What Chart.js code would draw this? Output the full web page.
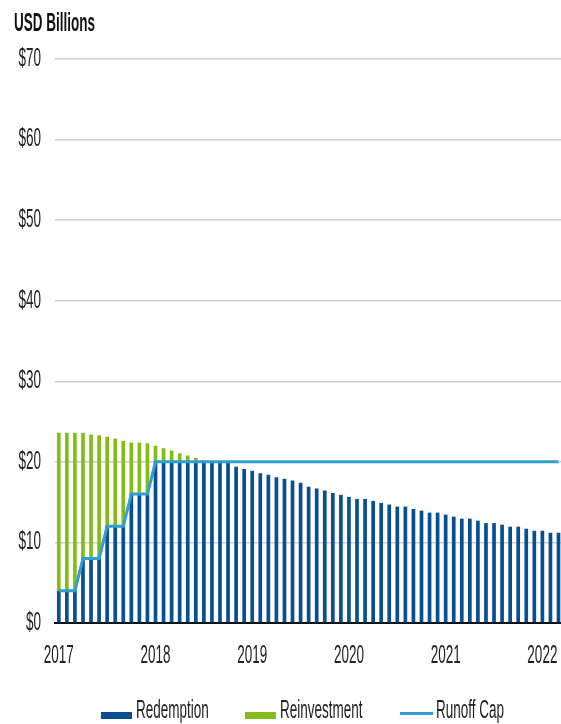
<!DOCTYPE html>
<html>
<head>
<meta charset="utf-8">
<script src="https://cdn.jsdelivr.net/npm/chart.js@4/dist/chart.umd.min.js"></script>
<style>
  html, body { margin: 0; padding: 0; background: #fff; }
  body { width: 561px; height: 724px; position: relative; overflow: hidden;
         font-family: "Liberation Sans", Arial, sans-serif; color: #222; }
  #wrap { position: absolute; left: 0; top: 0; width: 561px; height: 724px; }
  .tall { display: inline-block; line-height: 16px; transform: scaleY(1.85); transform-origin: 0 12.7px; white-space: nowrap; }
  .title { position: absolute; left: 14px; top: 20px; font-size: 13.5px; font-weight: bold; color: #111; }
  .legend { position: absolute; left: 0; top: 0; width: 561px; height: 724px; pointer-events: none; }
  .legend .txt { position: absolute; top: 706.5px; font-size: 13.5px; color: #222; }
  .legend .box { position: absolute; top: 712px; width: 31px; height: 6.5px; }
  .legend .line { position: absolute; top: 712px; width: 33px; height: 3px; }
</style>
</head>
<body>
<div id="wrap"><canvas id="chart" width="561" height="724"></canvas></div>
<div class="title tall">USD Billions</div>
<div class="legend" id="legend"></div>
<script>
// Months Jan 2017 .. Mar 2022
const years = [2017, 2018, 2019, 2020, 2021, 2022]
const monthLabels = []
years.forEach((y) => {
  for (let m = 1; m <= 12; m++) monthLabels.push(y + "-" + String(m).padStart(2, "0"))
})
monthLabels.length = 63

// USD billions per month
const redemption = [
  4, 4, 4, 8, 8, 8, 12, 12, 12, 16, 16, 16,
  20, 20, 20, 20, 20, 20, 20, 20, 20, 20,
  19.4, 19.1, 18.9, 18.6, 18.4, 18.1, 17.9, 17.7, 17.4, 16.9,
  16.7, 16.45, 16.15, 15.9, 15.65, 15.4, 15.4, 15.15, 14.9, 14.7,
  14.45, 14.45, 14.15, 13.95, 13.7, 13.7, 13.45, 13.2, 12.95, 12.95,
  12.7, 12.4, 12.4, 12.2, 11.95, 11.95, 11.7, 11.45, 11.45, 11.2, 11.2,
]
const reinvestment = [
  19.6, 19.6, 19.6, 15.6, 15.4, 15.3, 11.1, 10.9, 10.6, 6.4, 6.4, 6.3,
  2.0, 1.7, 1.4, 1.05, 0.8, 0.5, 0.2, 0, 0, 0,
  0, 0, 0, 0, 0, 0, 0, 0, 0, 0,
  0, 0, 0, 0, 0, 0, 0, 0, 0, 0,
  0, 0, 0, 0, 0, 0, 0, 0, 0, 0,
  0, 0, 0, 0, 0, 0, 0, 0, 0, 0, 0,
]
const runoffCap = [
  4, 4, 4, 8, 8, 8, 12, 12, 12, 16, 16, 16,
  20, 20, 20, 20, 20, 20, 20, 20, 20, 20,
  20, 20, 20, 20, 20, 20, 20, 20, 20, 20,
  20, 20, 20, 20, 20, 20, 20, 20, 20, 20,
  20, 20, 20, 20, 20, 20, 20, 20, 20, 20,
  20, 20, 20, 20, 20, 20, 20, 20, 20, 20, 20,
]
const yTicks = [0, 10, 20, 30, 40, 50, 60, 70]

const colors = {
  redemption: "#0b4f93",
  reinvestment: "#86bc1a",
  cap: "#2f9fd0",
}

const FONT = "'Liberation Sans', Arial, sans-serif"
const TEXT_STRETCH = 1.85

// month index -> point for the linear x axis
const toPoints = (arr) => arr.map((v, i) => ({ x: i, y: v }))
const yearTickValues = years.map((y) => monthLabels.indexOf(y + "-01"))

// the source art has tall, narrow lettering: stretch tick labels vertically
const tallLabels = {
  id: "tallLabels",
  beforeDraw(chart) {
    Object.values(chart.scales).forEach((scale) => {
      if (scale._tall) return
      const drawLabels = scale.drawLabels.bind(scale)
      scale.drawLabels = (area) => {
        const ctx = scale.ctx
        const fill = ctx.fillText
        ctx.fillText = function (text, x, y) {
          this.save()
          this.translate(x, y)
          this.scale(1, TEXT_STRETCH)
          fill.call(this, text, 0, 0)
          this.restore()
        }
        drawLabels(area)
        ctx.fillText = fill
      }
      scale._tall = true
    })
  },
}

new Chart(document.getElementById("chart"), {
  type: "bar",
  data: {
    datasets: [
      {
        type: "line",
        label: "Runoff Cap",
        data: toPoints(runoffCap),
        borderColor: colors.cap,
        borderWidth: 3,
        pointRadius: 0,
        tension: 0,
        stack: "cap",
        order: 0,
      },
      {
        label: "Redemption",
        data: toPoints(redemption),
        backgroundColor: colors.redemption,
        categoryPercentage: 1,
        barPercentage: 0.46,
        stack: "flows",
        order: 1,
      },
      {
        label: "Reinvestment",
        data: toPoints(reinvestment),
        backgroundColor: colors.reinvestment,
        categoryPercentage: 1,
        barPercentage: 0.46,
        stack: "flows",
        order: 1,
      },
    ],
  },
  plugins: [tallLabels],
  options: {
    responsive: false,
    animation: false,
    layout: { padding: { top: 59, left: 0, right: 0, bottom: 0 } },
    plugins: {
      legend: { display: false },
      tooltip: { enabled: false },
    },
    scales: {
      x: {
        type: "linear",
        stacked: true,
        offset: false,
        min: -0.47,
        max: 62.31,
        grid: { display: false, drawTicks: false, offset: false },
        border: { display: true, color: "#111", width: 2 },
        afterBuildTicks: (scale) => {
          scale.ticks = yearTickValues.map((v) => ({ value: v }))
        },
        afterFit: (scale) => {
          scale.height = 101
          scale.paddingLeft = 0
          scale.paddingRight = 0
        },
        ticks: {
          autoSkip: false,
          maxRotation: 0,
          padding: 25,
          color: "#222",
          font: { family: FONT, size: 13.5 },
          callback: (v) => monthLabels[v].slice(0, 4),
        },
      },
      y: {
        stacked: true,
        min: 0,
        max: 70,
        afterBuildTicks: (scale) => {
          scale.ticks = yTicks.map((v) => ({ value: v }))
        },
        afterFit: (scale) => {
          scale.width = 55
        },
        grid: {
          color: (ctx) => (ctx.tick && ctx.tick.value === 0 ? "rgba(0,0,0,0)" : "#cfcfcf"),
          lineWidth: 1.5,
          drawTicks: false,
        },
        border: { display: false },
        ticks: {
          padding: 14,
          color: "#222",
          font: { family: FONT, size: 13.5 },
          callback: (v) => "$" + v,
        },
      },
    },
  },
})

// HTML legend
const legendItems = [
  { label: "Redemption", color: colors.redemption, kind: "box", left: 101, textLeft: 136 },
  { label: "Reinvestment", color: colors.reinvestment, kind: "box", left: 245, textLeft: 280 },
  { label: "Runoff Cap", color: colors.cap, kind: "line", left: 400, textLeft: 436 },
]
document.getElementById("legend").innerHTML = legendItems
  .map(
    (it) => `<span class="${it.kind}" style="left:${it.left}px;background:${it.color}"></span>` +
      `<span class="txt tall" style="left:${it.textLeft}px">${it.label}</span>`,
  )
  .join("")
</script>
</body>
</html>
